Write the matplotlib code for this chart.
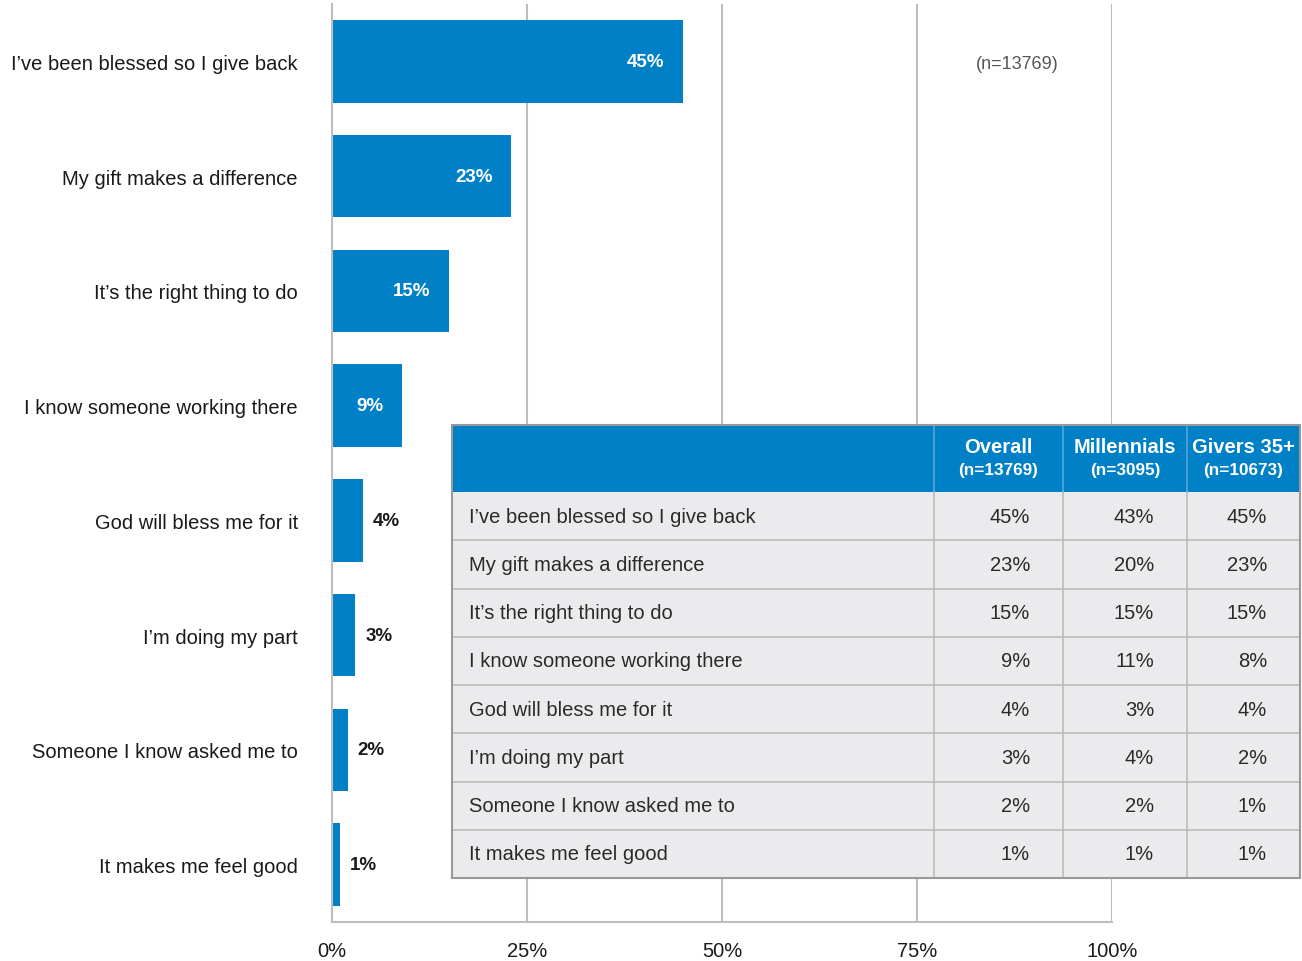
import matplotlib
matplotlib.use("Agg")
import matplotlib.pyplot as plt
from matplotlib.patches import Rectangle

plt.rcParams['font.family'] = ['Liberation Sans', 'DejaVu Sans']

categories = [
    "I\u2019ve been blessed so I give back",
    "My gift makes a difference",
    "It\u2019s the right thing to do",
    "I know someone working there",
    "God will bless me for it",
    "I\u2019m doing my part",
    "Someone I know asked me to",
    "It makes me feel good",
]
overall = [45, 23, 15, 9, 4, 3, 2, 1]
millennials = [43, 20, 15, 11, 3, 4, 2, 1]
givers35 = [45, 23, 15, 8, 4, 2, 1, 1]
col_titles = ["Overall", "Millennials", "Givers 35+"]
col_ns = ["(n=13769)", "(n=3095)", "(n=10673)"]
sample_note = "(n=13769)"
xticks = [0, 25, 50, 75, 100]

BLUE = "#0080C6"
GRID = "#BDBDBD"
TEXT = "#1a1a1a"

W, H = 1302, 962
fig = plt.figure(figsize=(W / 100, H / 100), dpi=100)

# main bar chart
ax = fig.add_axes([332 / W, (H - 923) / H, 780 / W, 918 / H])
y = list(range(len(categories)))
ax.barh(y, overall, height=0.72, color=BLUE, zorder=2)
ax.set_xlim(0, 100)
ax.set_ylim(len(categories) - 0.5, -0.5)
ax.set_xticks(xticks)
ax.set_xticklabels([f"{t}%" for t in xticks], fontsize=14.5, color=TEXT)
ax.tick_params(axis='x', length=0, pad=13.5)
ax.set_yticks(y)
ax.set_yticklabels(categories, fontsize=14.5, color=TEXT)
ax.tick_params(axis='y', length=0, pad=24.5)
for s in ["top", "right"]:
    ax.spines[s].set_visible(False)
for s in ["left", "bottom"]:
    ax.spines[s].set_color(GRID)
    ax.spines[s].set_linewidth(1.5)
for t in xticks[1:]:
    ax.axvline(t, color=GRID, lw=1.5, zorder=1)

for i, v in enumerate(overall):
    if v >= 9:
        ax.annotate(f"{v}%", (v, i), xytext=(-19, 0), textcoords="offset pixels",
                    ha="right", va="center", color="white", fontsize=13.5,
                    fontweight="bold", zorder=3)
    else:
        ax.annotate(f"{v}%", (v, i), xytext=(10, 0), textcoords="offset pixels",
                    ha="left", va="center", color=TEXT, fontsize=13.5,
                    fontweight="bold", zorder=3)

ax.text(87.8, 0.02, sample_note, ha="center", va="center",
        fontsize=13, color="#555555")

# summary table overlay in pixel coordinates
tx = fig.add_axes([0, 0, 1, 1])
tx.set_xlim(0, W)
tx.set_ylim(H, 0)
tx.axis("off")

cols = [452, 934, 1063, 1187, 1300]
top, head_bot = 426, 493
row_h = (879 - head_bot) / len(categories)
bottom = head_bot + row_h * len(categories)

tx.add_patch(Rectangle((cols[0], head_bot), cols[-1] - cols[0], bottom - head_bot,
                       facecolor="#EBEBED", edgecolor="none", zorder=1))
tx.add_patch(Rectangle((cols[0], top), cols[-1] - cols[0], head_bot - top,
                       facecolor=BLUE, edgecolor="none", zorder=2))
for r in range(1, len(categories)):
    yy = head_bot + r * row_h
    tx.plot([cols[0], cols[-1]], [yy, yy], color="#BBBBBB", lw=1.2, zorder=3)
for c in cols[1:-1]:
    tx.plot([c, c], [top, head_bot], color="#5AA5D6", lw=1.2, zorder=3)
    tx.plot([c, c], [head_bot, bottom], color="#BBBBBB", lw=1.2, zorder=3)
tx.add_patch(Rectangle((cols[0], top), cols[-1] - cols[0], bottom - top,
                       facecolor="none", edgecolor="#999999", lw=1.5, zorder=4))

for j, (title, n) in enumerate(zip(col_titles, col_ns)):
    cx = (cols[j + 1] + cols[j + 2]) / 2
    tx.text(cx, 448, title, ha="center", va="center", color="white",
            fontsize=14.5, fontweight="bold", zorder=5)
    tx.text(cx, 471, n, ha="center", va="center", color="white",
            fontsize=12.3, fontweight="bold", zorder=5)

for i, cat in enumerate(categories):
    cy = head_bot + (i + 0.5) * row_h
    tx.text(469, cy, cat, ha="left", va="center", color="#2a2a2a",
            fontsize=14.5, zorder=5)
    for j, vals in enumerate([overall, millennials, givers35]):
        tx.text(cols[j + 2] - 33, cy, f"{vals[i]}%", ha="right", va="center",
                color="#2a2a2a", fontsize=14.5, zorder=5)

fig.savefig("out.png", dpi=100)
